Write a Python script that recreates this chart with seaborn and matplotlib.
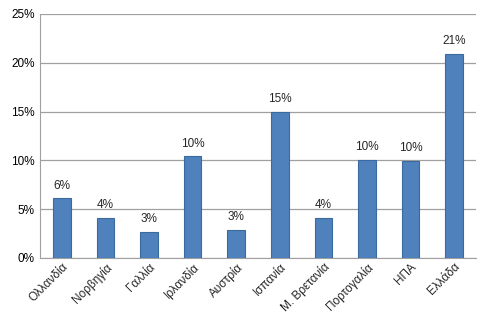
import matplotlib
matplotlib.use("Agg")
import matplotlib.pyplot as plt
import seaborn as sns
import numpy as np
import pandas as pd
from matplotlib.ticker import FuncFormatter, FixedLocator

countries = ["Ολλανδία", "Νορβηγία", "Γαλλία", "Ιρλανδία", "Αυστρία",
             "Ισπανία", "Μ. Βρετανία", "Πορτογαλία", "ΗΠΑ", "Ελλάδα"]
values = [6.1, 4.1, 2.7, 10.4, 2.9, 15.0, 4.1, 10.0, 9.9, 20.9]
labels = ["6%", "4%", "3%", "10%", "3%", "15%", "4%", "10%", "10%", "21%"]
yticks = [0, 5, 10, 15, 20, 25]

sns.set_style("white")
plt.rcParams['font.family'] = ['Liberation Sans', 'DejaVu Sans']

df = pd.DataFrame({"country": countries, "value": values})

fig = plt.figure(figsize=(4.9, 3.19), dpi=100)
ax = fig.add_axes([40/490, 61/319, 436/490, 244/319])

sns.barplot(data=df, x="country", y="value", color="#4F81BD", width=0.4,
            edgecolor="#3A6A9E", linewidth=0.8, saturation=1, ax=ax, zorder=3)

ax.set_ylim(0, 25)
ax.set_xlim(-0.5, len(countries) - 0.5)
ax.set_yticks(yticks)
ax.yaxis.set_major_formatter(FuncFormatter(lambda v, p: f"{int(v)}%"))
ax.grid(axis="y", color="#A0A0A0", linewidth=0.9, zorder=0)
ax.set_axisbelow(True)

for s in ["top", "right"]:
    ax.spines[s].set_visible(False)
ax.spines["left"].set_color("#A0A0A0")
ax.spines["bottom"].set_color("#A0A0A0")

ax.tick_params(axis="y", labelsize=8.5, length=0, pad=4, colors="black")
ax.tick_params(axis="x", which="major", length=0, labelsize=8.5, pad=2)
ax.xaxis.set_minor_locator(FixedLocator(np.arange(-0.5, len(countries), 1.0)))
ax.tick_params(axis="x", which="minor", length=4, color="#A0A0A0", width=0.9)
ax.yaxis.set_minor_locator(FixedLocator(yticks))
ax.tick_params(axis="y", which="minor", length=4, color="#A0A0A0", width=0.9, left=True)

for lab in ax.get_xticklabels():
    lab.set_rotation(45)
    lab.set_ha("right")
    lab.set_rotation_mode("anchor")

for i, (v, t) in enumerate(zip(values, labels)):
    ax.annotate(t, (i, v), xytext=(0, 5), textcoords="offset points",
                ha="center", va="bottom", fontsize=8.5)

ax.set_xlabel("")
ax.set_ylabel("")

fig.savefig("out.png", dpi=100)
